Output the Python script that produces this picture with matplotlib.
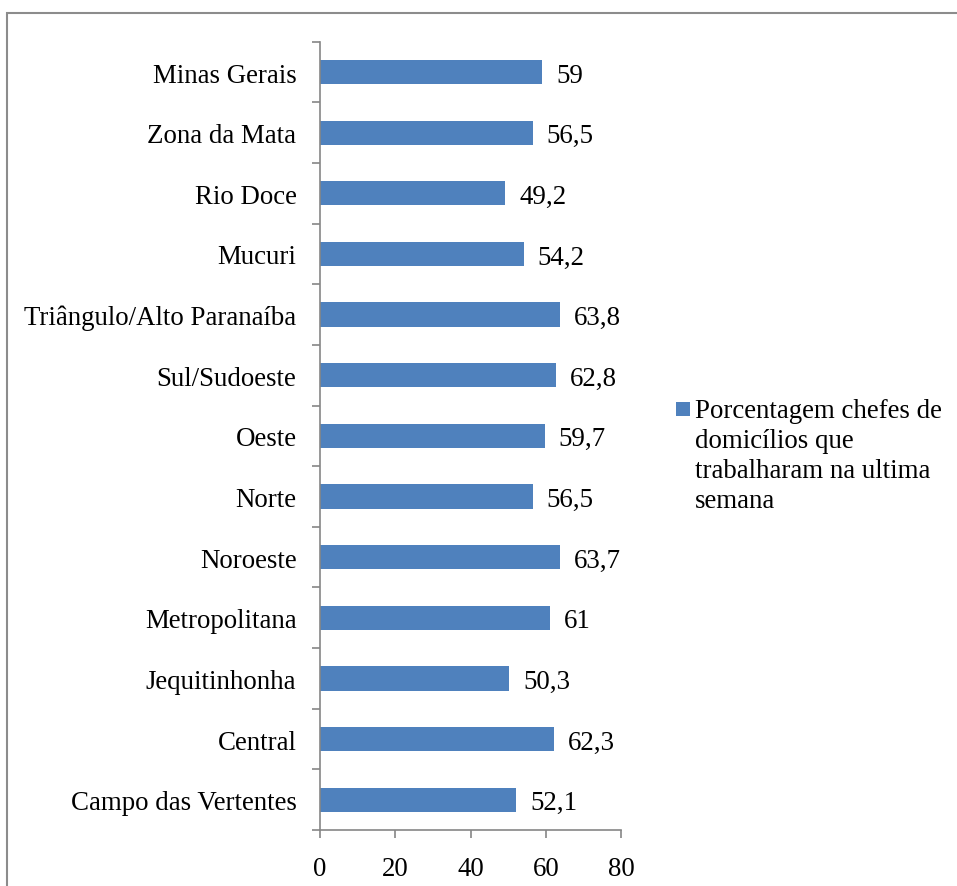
import matplotlib.pyplot as plt
from matplotlib.patches import Rectangle
import numpy as np

plt.rcParams['font.family'] = ['Liberation Serif', 'DejaVu Serif']

# regions, listed top to bottom
regioes = ['Minas Gerais', 'Zona da Mata', 'Rio Doce', 'Mucuri',
           'Triângulo/Alto Paranaíba', 'Sul/Sudoeste', 'Oeste', 'Norte',
           'Noroeste', 'Metropolitana', 'Jequitinhonha', 'Central',
           'Campo das Vertentes']
porcentagem = [59, 56.5, 49.2, 54.2, 63.8, 62.8, 59.7, 56.5, 63.7, 61, 50.3, 62.3, 52.1]
x_ticks = [0, 20, 40, 60, 80]
legenda = 'Porcentagem chefes de\ndomicílios que\ntrabalharam na ultima\nsemana'

bar_color = '#4F81BD'
axis_color = '#868686'
fs = 19.4

W, H = 957, 887
fig = plt.figure(figsize=(W / 100, H / 100), dpi=100)
ax = fig.add_axes([320 / W, 1 - 831 / H, (621 - 320) / W, (831 - 42.7) / H])

y = np.arange(len(regioes))
ax.barh(y, porcentagem, height=0.4, color=bar_color, zorder=2)
for yi, v in zip(y, porcentagem):
    txt = ('%g' % v).replace('.', ',')
    ax.annotate(txt, (v, yi), xytext=(10, 0), textcoords='offset points',
                va='center_baseline', ha='left', fontsize=fs)

ax.set_ylim(len(regioes) - 0.5, -0.5)
ax.set_xlim(0, 80)
ax.set_xticks(x_ticks)
ax.set_xticklabels([str(t) for t in x_ticks], fontsize=fs)
ax.set_yticks(y)
ax.set_yticklabels(regioes, fontsize=fs, va='center_baseline')
ax.set_yticks(np.arange(-0.5, len(regioes)), minor=True)

ax.tick_params(axis='y', which='major', length=0, pad=17)
ax.tick_params(axis='y', which='minor', length=6, width=1.2, color=axis_color, direction='out')
ax.tick_params(axis='x', length=6, width=1.2, color=axis_color, direction='out', pad=13)

for s in ['top', 'right']:
    ax.spines[s].set_visible(False)
for s in ['left', 'bottom']:
    ax.spines[s].set_color(axis_color)
    ax.spines[s].set_linewidth(1.2)

# legend drawn by hand so the marker sits beside the first line
fig.patches.append(Rectangle((676 / W, 1 - 417 / H), 14 / W, 14 / H,
                             transform=fig.transFigure, facecolor=bar_color,
                             edgecolor='none'))
fig.text(695 / W, 1 - 399 / H, legenda, fontsize=fs, va='top', ha='left',
         linespacing=1.27)

# chart frame, running off the right and bottom edges
fig.patches.append(Rectangle((7.5 / W, -0.05), 1.1, 1 - 13.5 / H + 0.05,
                             transform=fig.transFigure, facecolor='none',
                             edgecolor='#8c8c8c', linewidth=1.5))

fig.savefig('out.png', dpi=100)
